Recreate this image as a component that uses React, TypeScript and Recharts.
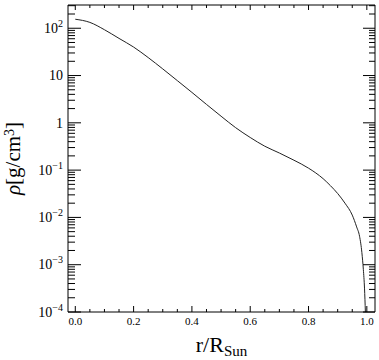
import { LineChart, Line, XAxis, YAxis, Label } from "recharts";

// radius in units of R_sun, density in g/cm^3
const radius = [
  0, 0.05, 0.1, 0.15, 0.2, 0.25, 0.3, 0.35, 0.4, 0.45, 0.5, 0.55, 0.6, 0.65,
  0.7, 0.75, 0.775, 0.8, 0.825, 0.85, 0.875, 0.9, 0.925, 0.95, 0.965, 0.975,
  0.983, 0.988, 0.992, 0.995,
];
const density = [
  155, 133, 93, 61, 40, 24, 13.8, 7.8, 4.4, 2.45, 1.38, 0.79, 0.49, 0.32,
  0.23, 0.162, 0.135, 0.11, 0.087, 0.066, 0.047, 0.032, 0.02, 0.0112, 0.0063,
  0.004, 0.0018, 0.0008, 0.00032, 0.0001,
];

const xMajorTicks = [0, 0.2, 0.4, 0.6, 0.8, 1.0];
const xTickLabels = ["0.0", "0.2", "0.4", "0.6", "0.8", "1.0"];
const xMinorStep = 0.05;

const yMajorTicks = [1e-4, 1e-3, 1e-2, 1e-1, 1, 10, 100];
const yLabelBase = ["10", "10", "10", "10", "1", "10", "10"];
const yLabelExp = ["\u22124", "\u22123", "\u22122", "\u22121", "", "", "2"];

const X_DOMAIN = [-0.025, 1.028];
const Y_DOMAIN = [1e-4, 310];

const data = radius.map((r, i) => ({ r, rho: density[i] }));

// all tick positions (majors + minors)
const xTicks = Array.from({ length: 21 }, (_, i) => +(i * xMinorStep).toFixed(2));
const yTicks: number[] = [];
for (let e = -4; e <= 2; e++) {
  for (let m = 1; m <= 9; m++) {
    const v = +(m * Math.pow(10, e)).toPrecision(3);
    if (v <= Y_DOMAIN[1]) yTicks.push(v);
  }
}

const xMajorIndex = (v: number) => xMajorTicks.findIndex((t) => Math.abs(t - v) < 1e-6);
const yMajorIndex = (v: number) =>
  yMajorTicks.findIndex((t) => Math.abs(t - v) / t < 1e-6);

const serif = "'Liberation Serif', 'Times New Roman', serif";

const BottomTick = (p: any) => {
  const i = xMajorIndex(p.payload.value);
  return (
    <g>
      <line x1={p.x} x2={p.x} y1={p.y} y2={p.y - (i >= 0 ? 6 : 3)} stroke="#000" />
      {i >= 0 && (
        <text x={p.x} y={p.y + 13} textAnchor="middle" fontSize={11} fontFamily={serif} fill="#000">
          {xTickLabels[i]}
        </text>
      )}
    </g>
  );
};

const TopTick = (p: any) => {
  const i = xMajorIndex(p.payload.value);
  return <line x1={p.x} x2={p.x} y1={p.y} y2={p.y + (i >= 0 ? 5 : 3)} stroke="#000" />;
};

const LeftTick = (p: any) => {
  const i = yMajorIndex(p.payload.value);
  return (
    <g>
      <line x1={p.x} x2={p.x + (i >= 0 ? 13 : 7)} y1={p.y} y2={p.y} stroke="#000" />
      {i >= 0 && (
        <text x={p.x - 5} y={p.y + 4.7} textAnchor="end" fontSize={14} fontFamily={serif} fill="#000">
          {yLabelBase[i]}
          {yLabelExp[i] && (
            <tspan fontSize={10} dy={-6}>
              {yLabelExp[i]}
            </tspan>
          )}
        </text>
      )}
    </g>
  );
};

const RightTick = (p: any) => {
  const i = yMajorIndex(p.payload.value);
  return <line x1={p.x} x2={p.x - (i >= 0 ? 12 : 6)} y1={p.y} y2={p.y} stroke="#000" />;
};

export default function App() {
  return (
    <div style={{ position: "absolute", left: 0, top: 0, width: 379, height: 360, background: "#fff" }}>
      <LineChart width={379} height={360} data={data} margin={{ top: 0, right: 0, bottom: 0, left: 0 }}>
        <XAxis
          dataKey="r"
          type="number"
          domain={X_DOMAIN}
          allowDataOverflow
          ticks={xTicks}
          interval={0}
          tick={BottomTick}
          tickLine={false}
          tickSize={0}
          tickMargin={0}
          height={48}
          axisLine={{ stroke: "#000" }}
        >
          <Label
            content={(props: any) => {
              const vb = props.viewBox;
              return (
                <text x={vb.x + vb.width / 2} y={352} textAnchor="middle" fontSize={22} fontFamily={serif} fill="#000">
                  r/R
                  <tspan fontSize={15} dy={4}>
                    Sun
                  </tspan>
                </text>
              );
            }}
          />
        </XAxis>
        <XAxis
          xAxisId="top"
          orientation="top"
          dataKey="r"
          type="number"
          domain={X_DOMAIN}
          allowDataOverflow
          ticks={xTicks}
          interval={0}
          tick={TopTick}
          tickLine={false}
          tickSize={0}
          tickMargin={0}
          height={5}
          axisLine={{ stroke: "#000" }}
        />
        <YAxis
          type="number"
          scale="log"
          domain={Y_DOMAIN}
          allowDataOverflow
          ticks={yTicks}
          interval={0}
          tick={LeftTick}
          tickLine={false}
          tickSize={0}
          tickMargin={0}
          width={68}
          axisLine={{ stroke: "#000" }}
        >
          <Label
            content={(props: any) => {
              const vb = props.viewBox;
              const cy = vb.y + vb.height / 2;
              return (
                <text
                  x={20}
                  y={cy}
                  transform={`rotate(-90, 20, ${cy})`}
                  textAnchor="middle"
                  fontSize={21}
                  fontFamily={serif}
                  fill="#000"
                >
                  <tspan fontStyle="italic">ρ</tspan>
                  <tspan>[g/cm</tspan>
                  <tspan fontSize={14} dy={-6}>
                    3
                  </tspan>
                  <tspan dy={6}>]</tspan>
                </text>
              );
            }}
          />
        </YAxis>
        <YAxis
          yAxisId="right"
          orientation="right"
          type="number"
          scale="log"
          domain={Y_DOMAIN}
          allowDataOverflow
          ticks={yTicks}
          interval={0}
          tick={RightTick}
          tickLine={false}
          tickSize={0}
          tickMargin={0}
          width={4}
          axisLine={{ stroke: "#000" }}
        />
        <Line
          dataKey="rho"
          type="monotone"
          stroke="#222"
          strokeWidth={1}
          dot={false}
          isAnimationActive={false}
        />
      </LineChart>
    </div>
  );
}
